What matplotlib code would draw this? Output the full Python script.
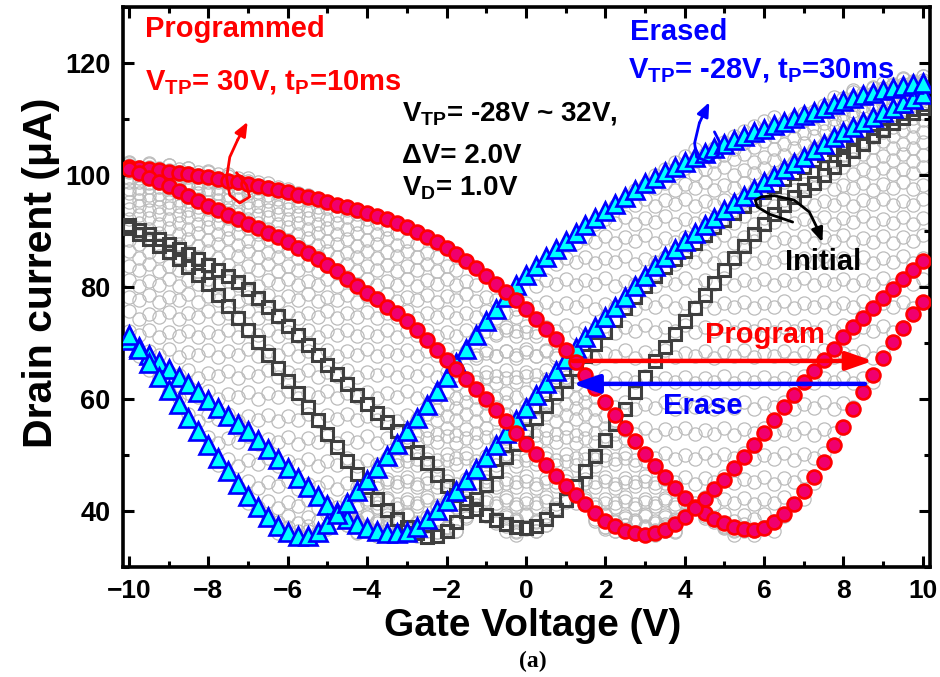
import numpy as np
import matplotlib
matplotlib.use("Agg")
import matplotlib.pyplot as plt
from matplotlib.ticker import MultipleLocator

plt.rcParams['font.family'] = ['Liberation Sans', 'DejaVu Sans']
plt.rcParams['font.weight'] = 'bold'
plt.rcParams['mathtext.fontset'] = 'custom'
plt.rcParams['mathtext.rm'] = 'Liberation Sans:bold'
plt.rcParams['mathtext.it'] = 'Liberation Sans:bold'
plt.rcParams['mathtext.bf'] = 'Liberation Sans:bold'
plt.rcParams['mathtext.default'] = 'rm'

# ---------------- data ----------------
gate_start, gate_step, n_pts = -10.0, 0.25, 81
gate_v = gate_start + gate_step * np.arange(n_pts)

programmed_sweep1 = [101.0, 100.3, 99.5, 98.8, 98.0, 97.2, 96.3, 95.4, 94.5, 93.7, 92.9, 92.1, 91.3,
                     90.5, 89.7, 88.9, 88.0, 87.0, 86.0, 85.0, 84.0, 82.8, 81.5, 80.2, 79.0, 77.8,
                     76.5, 75.3, 74.0, 72.3, 70.5, 68.8, 67.0, 65.3, 63.5, 61.8, 60.0, 58.0, 56.0,
                     54.0, 52.0, 50.1, 48.2, 46.3, 44.5, 42.8, 41.2, 39.6, 38.3, 37.3, 36.5, 36.0,
                     35.8, 36.0, 36.6, 37.6, 39.0, 40.5, 42.2, 43.9, 45.6, 47.6, 49.6, 51.8, 54.0,
                     56.3, 58.5, 60.8, 63.0, 65.0, 67.0, 69.0, 71.0, 72.8, 74.5, 76.3, 78.0, 79.7,
                     81.4, 83.0, 84.7]
programmed_sweep2 = [101.5, 101.3, 101.1, 100.9, 100.6, 100.4, 100.1, 99.9, 99.6, 99.3, 99.0, 98.7,
                     98.4, 98.0, 97.7, 97.3, 96.9, 96.5, 96.1, 95.7, 95.2, 94.7, 94.3, 93.8, 93.3,
                     92.7, 92.1, 91.4, 90.7, 89.9, 89.0, 88.0, 87.0, 85.9, 84.7, 83.4, 82.0, 80.6,
                     79.1, 77.6, 76.0, 74.3, 72.5, 70.7, 68.8, 66.6, 64.3, 61.9, 59.4, 57.1, 54.8,
                     52.5, 50.2, 48.1, 46.0, 44.1, 42.3, 40.8, 39.6, 38.6, 37.8, 37.2, 36.8, 36.6,
                     37.0, 38.0, 39.5, 41.3, 43.5, 46.0, 48.8, 51.8, 55.0, 58.2, 61.3, 64.3, 67.3,
                     70.1, 72.7, 75.1, 77.4]
erased_sweep1 = [71.5, 69.0, 66.5, 64.0, 61.6, 59.1, 56.6, 54.2, 51.8, 49.5, 47.2, 44.9, 42.7, 40.7,
                 38.9, 37.4, 36.3, 35.6, 35.5, 36.3, 37.7, 39.5, 41.5, 43.5, 45.6, 47.7, 49.8, 52.0,
                 54.3, 56.6, 59.0, 61.5, 64.0, 66.5, 69.0, 71.5, 73.9, 76.1, 78.3, 80.3, 82.2, 83.8,
                 85.3, 86.8, 88.2, 89.6, 91.0, 92.3, 93.6, 94.9, 96.1, 97.3, 98.5, 99.5, 100.5,
                 101.4, 102.3, 103.2, 104.0, 104.8, 105.6, 106.3, 107.0, 107.7, 108.3, 108.9,
                 109.5, 110.1, 110.7, 111.3, 111.9, 112.6, 113.2, 113.7, 114.2, 114.7, 115.1,
                 115.5, 115.9, 116.2, 116.5]
erased_sweep2 = [70.5, 69.2, 67.9, 66.6, 65.3, 64.0, 62.6, 61.2, 59.8, 58.4, 57.0, 55.6, 54.2, 52.6,
                 51.0, 49.3, 47.6, 45.9, 44.2, 42.6, 41.1, 39.8, 38.6, 37.6, 36.9, 36.4, 36.1, 36.0,
                 36.3, 37.2, 38.5, 40.1, 41.8, 43.6, 45.5, 47.5, 49.6, 51.8, 54.0, 56.2, 58.4, 60.7,
                 62.9, 65.0, 67.1, 69.1, 71.0, 72.8, 74.6, 76.5, 78.3, 80.2, 82.0, 83.7, 85.3, 86.8,
                 88.2, 89.6, 91.0, 92.4, 93.7, 95.0, 96.2, 97.5, 98.7, 99.9, 101.0, 102.2, 103.3,
                 104.4, 105.6, 106.7, 107.7, 108.6, 109.5, 110.3, 111.2, 112.0, 112.8, 113.6, 114.4]
initial_sweep1 = [90.5, 89.5, 88.5, 87.4, 86.2, 85.0, 83.6, 82.1, 80.5, 78.6, 76.6, 74.5, 72.4, 70.2,
                  67.9, 65.6, 63.3, 61.0, 58.6, 56.2, 53.8, 51.4, 49.0, 46.6, 44.3, 42.1, 40.2, 38.5,
                  37.1, 36.0, 35.4, 35.5, 36.4, 38.0, 40.0, 42.2, 44.6, 47.1, 49.6, 52.0, 54.3, 56.6,
                  58.8, 61.0, 63.2, 65.4, 67.6, 69.8, 72.0, 74.1, 76.2, 78.2, 80.1, 81.9, 83.5, 85.0,
                  86.5, 87.9, 89.3, 90.7, 92.0, 93.3, 94.5, 95.7, 96.9, 98.1, 99.2, 100.4, 101.5,
                  102.6, 103.6, 104.6, 105.6, 106.6, 107.5, 108.4, 109.3, 110.2, 111.0, 111.8, 112.6]
initial_sweep2 = [91.0, 90.2, 89.4, 88.6, 87.7, 86.8, 85.9, 85.0, 84.0, 83.0, 82.0, 80.9, 79.6, 78.1,
                  76.5, 74.8, 73.1, 71.4, 69.6, 67.9, 66.1, 64.4, 62.6, 60.8, 59.1, 57.5, 55.9, 54.2,
                  52.5, 50.6, 48.6, 46.5, 44.5, 42.9, 41.5, 40.3, 39.3, 38.4, 37.7, 37.2, 37.0, 37.4,
                  38.5, 40.1, 42.0, 44.5, 47.2, 49.9, 52.7, 55.5, 58.3, 61.2, 64.0, 66.7, 69.2, 71.6,
                  73.9, 76.2, 78.5, 80.8, 83.0, 85.2, 87.4, 89.4, 91.3, 93.0, 94.6, 96.0, 97.3, 98.6,
                  100.0, 101.4, 102.8, 104.2, 105.6, 106.9, 108.1, 109.2, 110.2, 111.1, 112.0]

# intermediate (VTP = -28 V ~ 32 V) curves: common transfer shape vs (Vg - V_Dirac), step 0.5 V
shape_dv_start, shape_dv_step = -16.0, 0.5
shape_current = [101.9, 101.7, 101.5, 101.2, 100.8, 100.3, 99.7, 98.9, 98.0, 97.0, 95.9, 94.6,
                 93.2, 91.6, 89.8, 87.8, 85.6, 83.2, 80.6, 77.8, 74.8, 71.5, 68.0, 64.3, 60.5,
                 56.5, 52.5, 48.5, 44.5, 41.0, 38.3, 36.6, 36.0, 36.7, 38.6, 41.6, 45.3, 49.5,
                 54.0, 58.6, 63.2, 67.8, 72.3, 76.6, 80.7, 84.6, 88.3, 91.7, 94.9, 97.8, 100.5,
                 102.9, 105.1, 107.1, 108.9, 110.5, 111.9, 113.1, 114.1, 115.0, 115.7, 116.3,
                 116.8, 117.2, 117.5]
dirac_points = [-5.75, -5.5, -5.25, -5.0, -4.75, -4.5, -4.25, -4.0, -3.75, -3.5, -3.25, -3.0,
                -2.75, -2.5, -2.25, -2.0, -1.75, -1.5, -1.25, -1.0, -0.75, -0.5, -0.25, 0.0,
                0.25, 0.5, 0.75, 1.0, 1.25, 1.5, 1.75, 2.0, 2.25, 2.5, 2.75, 3.0, 3.25, 3.5,
                3.75, 4.0, 4.25, 4.5, 4.75, 5.0, 5.25, 5.5, 5.75]
min_currents = [35.5, 36.5, 35.8, 36.8, 35.6, 36.6, 35.9, 36.9, 35.5, 36.4, 35.8, 36.7, 35.5,
                36.5, 35.8, 36.9, 35.6, 36.6, 35.9, 36.9, 35.7, 36.5, 35.8, 36.8, 35.6, 36.6,
                35.9, 36.9, 35.7, 36.5, 35.8, 36.8, 35.6, 36.6, 35.9, 36.9, 35.7, 36.5, 35.8,
                36.8, 35.6, 36.6, 35.9, 36.9, 35.7, 36.5, 35.8]

# ---------------- figure ----------------
fig = plt.figure(figsize=(9.4, 6.77), dpi=100)
ax = fig.add_axes([123/940, 1-567/677, (930-123)/940, (567-7)/677])

colored = np.array([programmed_sweep1, programmed_sweep2, erased_sweep1, erased_sweep2,
                    initial_sweep1, initial_sweep2])
lo = colored.min(axis=0)
hi = colored.max(axis=0)

shape_arr = np.array(shape_current)
shape_dv = shape_dv_start + shape_dv_step * np.arange(len(shape_arr))
gx_all, gy_all = [], []
for dp, mc in zip(dirac_points, min_currents):
    gx = dp + shape_dv
    gy = shape_arr + (mc - 36.0)
    idx = np.round((gx - gate_start) / gate_step).astype(int)
    ok = (idx >= 0) & (idx < n_pts)
    idx_c = np.clip(idx, 0, n_pts - 1)
    ok &= (gy >= lo[idx_c] - 1.5) & (gy <= hi[idx_c] + 1.5)
    gx_all.append(gx[ok]); gy_all.append(gy[ok])
gx_all = np.concatenate(gx_all); gy_all = np.concatenate(gy_all)
ax.plot(gx_all, gy_all, linestyle='none', marker='o', markersize=9.5, markerfacecolor='none',
        markeredgecolor='#bcbcbc', markeredgewidth=0.9, zorder=1)

sq = dict(linestyle='none', marker='s', markersize=9, markerfacecolor='none',
          markeredgecolor='#3f3f3f', markeredgewidth=2.2, zorder=3)
ax.plot(gate_v, initial_sweep1, **sq)
ax.plot(gate_v, initial_sweep2, **sq)

tri = dict(linestyle='none', marker='^', markersize=12.5, markerfacecolor='#00FFFF',
           markeredgecolor='#0000FF', markeredgewidth=1.9, zorder=4)
ax.plot(gate_v, erased_sweep2, **tri)
ax.plot(gate_v, erased_sweep1, **tri)

circ = dict(linestyle='none', marker='o', markersize=10, markerfacecolor='#F0006E',
            markeredgecolor='#FF0000', markeredgewidth=1.9, zorder=5)
ax.plot(gate_v, programmed_sweep2, **circ)
ax.plot(gate_v, programmed_sweep1, **circ)

# program / erase arrows
ax.annotate('', xy=(8.74, 66.8), xytext=(1.18, 66.8),
            arrowprops=dict(arrowstyle='-|>,head_length=0.8,head_width=0.28', color='#FF0000',
                            lw=3.2, mutation_scale=20, shrinkA=0, shrinkB=0), zorder=6)
ax.annotate('', xy=(1.18, 62.7), xytext=(8.54, 62.7),
            arrowprops=dict(arrowstyle='-|>,head_length=0.8,head_width=0.28', color='#0000FF',
                            lw=3.2, mutation_scale=20, shrinkA=0, shrinkB=0), zorder=6)

def hook(pts, color):
    pts = np.array(pts)
    ax.plot(pts[:-1, 0], pts[:-1, 1], color=color, lw=2.0, zorder=7, solid_capstyle='round')
    ax.annotate('', xy=tuple(pts[-1]), xytext=tuple(pts[-2]),
                arrowprops=dict(arrowstyle='-|>,head_length=0.6,head_width=0.25', color=color,
                                lw=2.0, mutation_scale=14, shrinkA=0, shrinkB=0), zorder=7)

hook([(-7.29, 100.4), (-7.04, 98.2), (-6.96, 96.1), (-7.21, 95.0), (-7.46, 96.4),
      (-7.54, 99.5), (-7.46, 103.2), (-7.26, 106.3), (-7.01, 109.5)], '#FF0000')
hook([(4.75, 107.7), (4.88, 105.9), (4.85, 103.6), (4.62, 102.3), (4.30, 103.2),
      (4.25, 105.7), (4.37, 109.3), (4.62, 113.0)], '#0000FF')
hook([(6.72, 91.6), (6.14, 93.0), (5.83, 94.3), (5.78, 95.5), (5.93, 96.1), (6.26, 96.3),
      (6.76, 95.5), (7.14, 93.4), (7.34, 90.5), (7.47, 88.0)], '#000000')

# texts
fs = 21
ax.text(-9.6, 124.6, 'Programmed', color='#FF0000', fontsize=fs, fontweight='bold', va='baseline')
ax.text(-9.6, 115.2, r'V$_{TP}$= 30V, t$_{P}$=10ms', color='#FF0000', fontsize=fs,
        fontweight='bold', va='baseline')
ax.text(2.61, 124.1, 'Erased', color='#0000FF', fontsize=fs, fontweight='bold', va='baseline')
ax.text(2.56, 117.3, r'V$_{TP}$= -28V, t$_{P}$=30ms', color='#0000FF', fontsize=fs,
        fontweight='bold', va='baseline')
ax.text(-3.13, 109.8, r'V$_{TP}$= -28V ~ 32V,', color='black', fontsize=20, fontweight='bold',
        va='baseline')
ax.text(-3.13, 102.1, 'ΔV= 2.0V', color='black', fontsize=20, fontweight='bold', va='baseline')
ax.text(-3.13, 96.4, r'V$_{D}$= 1.0V', color='black', fontsize=20, fontweight='bold', va='baseline')
ax.text(6.02, 71.5, 'Program', color='#FF0000', fontsize=fs, fontweight='bold',
        ha='center', va='center', zorder=8)
ax.text(4.46, 58.8, 'Erase', color='#0000FF', fontsize=fs, fontweight='bold',
        ha='center', va='center', zorder=8)
ax.text(7.48, 84.5, 'Initial', color='black', fontsize=fs, fontweight='bold',
        ha='center', va='center', zorder=8)

# axes styling
ax.set_xlim(-10.15, 10.18)
ax.set_ylim(30, 130)
ax.xaxis.set_major_locator(MultipleLocator(2))
ax.xaxis.set_minor_locator(MultipleLocator(1))
ax.yaxis.set_major_locator(MultipleLocator(20))
ax.yaxis.set_minor_locator(MultipleLocator(10))
ax.set_yticks([40, 60, 80, 100, 120])
ax.tick_params(which='both', direction='in', top=True, right=True, width=2.2)
ax.tick_params(which='major', length=8)
ax.tick_params(which='minor', length=4.5)
ax.tick_params(axis='x', which='major', pad=9, labelsize=19)
ax.tick_params(axis='y', which='major', pad=9, labelsize=19.5)
for lab in ax.get_xticklabels() + ax.get_yticklabels():
    lab.set_fontweight('bold')
for s in ax.spines.values():
    s.set_linewidth(2.6)

ax.set_xlabel('Gate Voltage (V)', fontsize=28, fontweight='bold')
ax.xaxis.set_label_coords(0.508, -0.074)
ax.set_ylabel('Drain current (μA)', fontsize=29.5, fontweight='bold')
ax.yaxis.set_label_coords(-0.078, 0.525)

fig.text(533/940, 1-661/677, '(a)', fontsize=17, fontweight='bold',
         family=['Liberation Serif', 'DejaVu Serif'], ha='center', va='center')

fig.savefig('out.png', dpi=100)
